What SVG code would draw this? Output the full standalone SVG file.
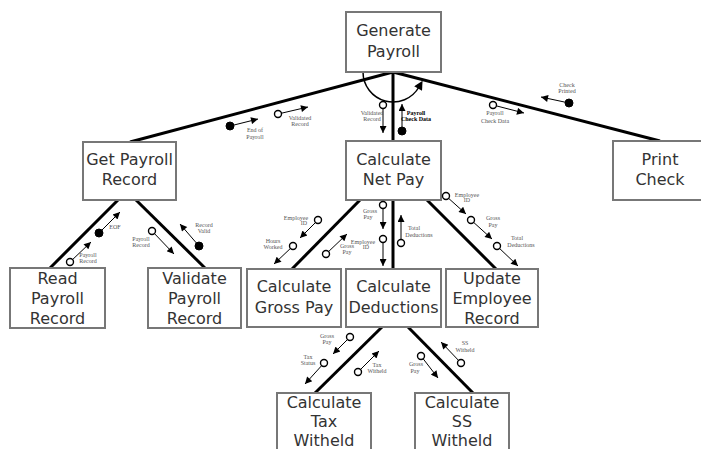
<svg xmlns="http://www.w3.org/2000/svg" width="701" height="449" viewBox="0 0 701 449">
<style>
.box{fill:#fff;stroke:#777;stroke-width:2}
.nt{font-family:"DejaVu Sans",sans-serif;font-size:16px;fill:#333;text-anchor:middle}
.link{stroke:#000;stroke-width:3;fill:none}
.cl{stroke:#000;stroke-width:1;fill:none;marker-end:url(#arr)}
.oc{fill:#fff;stroke:#000;stroke-width:1.4}
.fc{fill:#000;stroke:#000;stroke-width:1}
.lb{font-family:"Liberation Serif",serif;font-size:6px;fill:#555;text-anchor:middle}
.lbb{font-family:"Liberation Serif",serif;font-size:6px;fill:#000;font-weight:bold;text-anchor:middle}
</style>
<defs>
<marker id="arr" viewBox="0 0 10 10" refX="10" refY="5" markerWidth="9" markerHeight="7" markerUnits="userSpaceOnUse" orient="auto"><path d="M0,0 L10,5 L0,10 z" fill="#000"/></marker>
<marker id="big" viewBox="0 0 10 10" refX="2" refY="5" markerWidth="12" markerHeight="9" markerUnits="userSpaceOnUse" orient="auto"><path d="M0,0 L10,5 L0,10 z" fill="#000"/></marker>
</defs>
<rect width="701" height="449" fill="#fff"/>
<g id="connectors">
<line class="link" x1="393" y1="72" x2="130" y2="142"/>
<line class="link" x1="393" y1="72" x2="393" y2="141"/>
<line class="link" x1="393" y1="72" x2="660" y2="141"/>
<line class="link" x1="118" y1="200" x2="50" y2="268"/>
<line class="link" x1="136" y1="200" x2="205" y2="268"/>
<line class="link" x1="360" y1="200" x2="292" y2="269"/>
<line class="link" x1="393" y1="200" x2="393" y2="269"/>
<line class="link" x1="427" y1="200" x2="496" y2="269"/>
<line class="link" x1="382" y1="327" x2="315" y2="393"/>
<line class="link" x1="408" y1="327" x2="473" y2="393"/>
<path d="M363,72 A30,30 0 0 0 419,87" stroke="#000" stroke-width="1.5" fill="none" marker-end="url(#big)"/>
</g>
<g id="node-generate-payroll"><rect class="box" x="346" y="12" width="95" height="60"/><text class="nt" x="393.5" y="36">Generate</text><text class="nt" x="393.5" y="57">Payroll</text></g>
<g id="node-get-payroll-record"><rect class="box" x="83" y="142" width="93" height="58"/><text class="nt" x="129.5" y="165">Get Payroll</text><text class="nt" x="129.5" y="185">Record</text></g>
<g id="node-calculate-net-pay"><rect class="box" x="346" y="141" width="95" height="59"/><text class="nt" x="393.5" y="165">Calculate</text><text class="nt" x="393.5" y="185">Net Pay</text></g>
<g id="node-print-check"><rect class="box" x="613" y="141" width="94" height="59"/><text class="nt" x="660" y="165">Print</text><text class="nt" x="660" y="185">Check</text></g>
<g id="node-read-payroll-record"><rect class="box" x="10" y="268" width="95" height="60"/><text class="nt" x="57.5" y="284">Read</text><text class="nt" x="57.5" y="304">Payroll</text><text class="nt" x="57.5" y="324">Record</text></g>
<g id="node-validate-payroll-record"><rect class="box" x="148" y="268" width="93" height="60"/><text class="nt" x="194.5" y="284">Validate</text><text class="nt" x="194.5" y="304">Payroll</text><text class="nt" x="194.5" y="324">Record</text></g>
<g id="node-calculate-gross-pay"><rect class="box" x="247" y="269" width="94" height="58"/><text class="nt" x="294" y="292">Calculate</text><text class="nt" x="294" y="313">Gross Pay</text></g>
<g id="node-calculate-deductions"><rect class="box" x="346" y="269" width="95" height="58"/><text class="nt" x="393.5" y="292">Calculate</text><text class="nt" x="393.5" y="313">Deductions</text></g>
<g id="node-update-employee-record"><rect class="box" x="446" y="269" width="92" height="58"/><text class="nt" x="492" y="284">Update</text><text class="nt" x="492" y="304">Employee</text><text class="nt" x="492" y="324">Record</text></g>
<g id="node-calculate-tax-witheld"><rect class="box" x="277" y="393" width="94" height="60"/><text class="nt" x="324" y="408">Calculate</text><text class="nt" x="324" y="427">Tax</text><text class="nt" x="324" y="446">Witheld</text></g>
<g id="node-calculate-ss-witheld"><rect class="box" x="415" y="393" width="94" height="60"/><text class="nt" x="462" y="408">Calculate</text><text class="nt" x="462" y="427">SS</text><text class="nt" x="462" y="446">Witheld</text></g>
<g id="couples">
<g><line class="cl" x1="383" y1="105" x2="383" y2="133"/><circle class="oc" cx="383" cy="105" r="3.5"/><text class="lb" x="372" y="115">Validated</text><text class="lb" x="372" y="121">Record</text></g>
<g><line class="cl" x1="402" y1="131" x2="402" y2="104"/><circle class="fc" cx="402" cy="131" r="4"/><text class="lbb" x="416" y="115">Payroll</text><text class="lbb" x="416" y="121">Check Data</text></g>
<g><line class="cl" x1="230" y1="126" x2="258" y2="119"/><circle class="fc" cx="230" cy="126" r="4"/><text class="lb" x="255" y="132">End of</text><text class="lb" x="255" y="139">Payroll</text></g>
<g><line class="cl" x1="278" y1="114" x2="308" y2="107"/><circle class="oc" cx="278" cy="114" r="3.5"/><text class="lb" x="300" y="120">Validated</text><text class="lb" x="300" y="126">Record</text></g>
<g><line class="cl" x1="569" y1="103" x2="541" y2="97"/><circle class="fc" cx="569" cy="103" r="4"/><text class="lb" x="567" y="87">Check</text><text class="lb" x="567" y="93">Printed</text></g>
<g><line class="cl" x1="493" y1="105" x2="524" y2="113"/><circle class="oc" cx="493" cy="105" r="3.5"/><text class="lb" x="495" y="115">Payroll</text><text class="lb" x="495" y="123">Check Data</text></g>
<g><line class="cl" x1="99" y1="233" x2="120" y2="212"/><circle class="fc" cx="99" cy="233" r="4"/><text class="lb" x="115" y="229">EOF</text></g>
<g><line class="cl" x1="70" y1="262" x2="91" y2="242"/><circle class="oc" cx="70" cy="262" r="3.5"/><text class="lb" x="88" y="257">Payroll</text><text class="lb" x="88" y="263">Record</text></g>
<g><line class="cl" x1="152" y1="231" x2="174" y2="254"/><circle class="oc" cx="152" cy="231" r="3.5"/><text class="lb" x="141" y="241">Payroll</text><text class="lb" x="141" y="247">Record</text></g>
<g><line class="cl" x1="199" y1="246" x2="180" y2="224"/><circle class="fc" cx="199" cy="246" r="4"/><text class="lb" x="204" y="227">Record</text><text class="lb" x="204" y="233">Valid</text></g>
<g><line class="cl" x1="318" y1="220" x2="300" y2="238"/><circle class="oc" cx="318" cy="220" r="3.5"/><text class="lb" x="296" y="220">Employee</text><text class="lb" x="304" y="225">ID</text></g>
<g><line class="cl" x1="293" y1="246" x2="274" y2="264"/><circle class="oc" cx="293" cy="246" r="3.5"/><text class="lb" x="273" y="243">Hours</text><text class="lb" x="273" y="249">Worked</text></g>
<g><line class="cl" x1="326" y1="254" x2="347" y2="234"/><circle class="oc" cx="326" cy="254" r="3.5"/><text class="lb" x="347" y="248">Gross</text><text class="lb" x="347" y="254">Pay</text></g>
<g><line class="cl" x1="383" y1="205" x2="383" y2="229"/><circle class="oc" cx="383" cy="205" r="3.5"/><text class="lb" x="370" y="213">Gross</text><text class="lb" x="368" y="219">Pay</text></g>
<g><line class="cl" x1="383" y1="239" x2="383" y2="266"/><circle class="oc" cx="383" cy="239" r="3.5"/><text class="lb" x="363" y="244">Employee</text><text class="lb" x="366" y="249">ID</text></g>
<g><line class="cl" x1="401" y1="243" x2="401" y2="215"/><circle class="oc" cx="401" cy="243" r="3.5"/><text class="lb" x="414" y="230">Total</text><text class="lb" x="419" y="237">Deductions</text></g>
<g><line class="cl" x1="446" y1="196" x2="466" y2="214"/><circle class="oc" cx="446" cy="196" r="3.5"/><text class="lb" x="467" y="197">Employee</text><text class="lb" x="467" y="202">ID</text></g>
<g><line class="cl" x1="471" y1="220" x2="492" y2="239"/><circle class="oc" cx="471" cy="220" r="3.5"/><text class="lb" x="493" y="220">Gross</text><text class="lb" x="493" y="227">Pay</text></g>
<g><line class="cl" x1="497" y1="246" x2="518" y2="266"/><circle class="oc" cx="497" cy="246" r="3.5"/><text class="lb" x="517" y="240">Total</text><text class="lb" x="521" y="247">Deductions</text></g>
<g><line class="cl" x1="350" y1="337" x2="333" y2="354"/><circle class="oc" cx="350" cy="337" r="3.5"/><text class="lb" x="327" y="338">Gross</text><text class="lb" x="327" y="344">Pay</text></g>
<g><line class="cl" x1="324" y1="363" x2="305" y2="384"/><circle class="oc" cx="324" cy="363" r="3.5"/><text class="lb" x="308" y="359">Tax</text><text class="lb" x="308" y="365">Status</text></g>
<g><line class="cl" x1="358" y1="372" x2="379" y2="351"/><circle class="oc" cx="358" cy="372" r="3.5"/><text class="lb" x="377" y="367">Tax</text><text class="lb" x="377" y="373">Witheld</text></g>
<g><line class="cl" x1="421" y1="356" x2="438" y2="378"/><circle class="oc" cx="421" cy="356" r="3.5"/><text class="lb" x="416" y="366">Gross</text><text class="lb" x="415" y="373">Pay</text></g>
<g><line class="cl" x1="461" y1="363" x2="441" y2="342"/><circle class="oc" cx="461" cy="363" r="3.5"/><text class="lb" x="465" y="345">SS</text><text class="lb" x="465" y="352">Witheld</text></g>
</g>
</svg>
